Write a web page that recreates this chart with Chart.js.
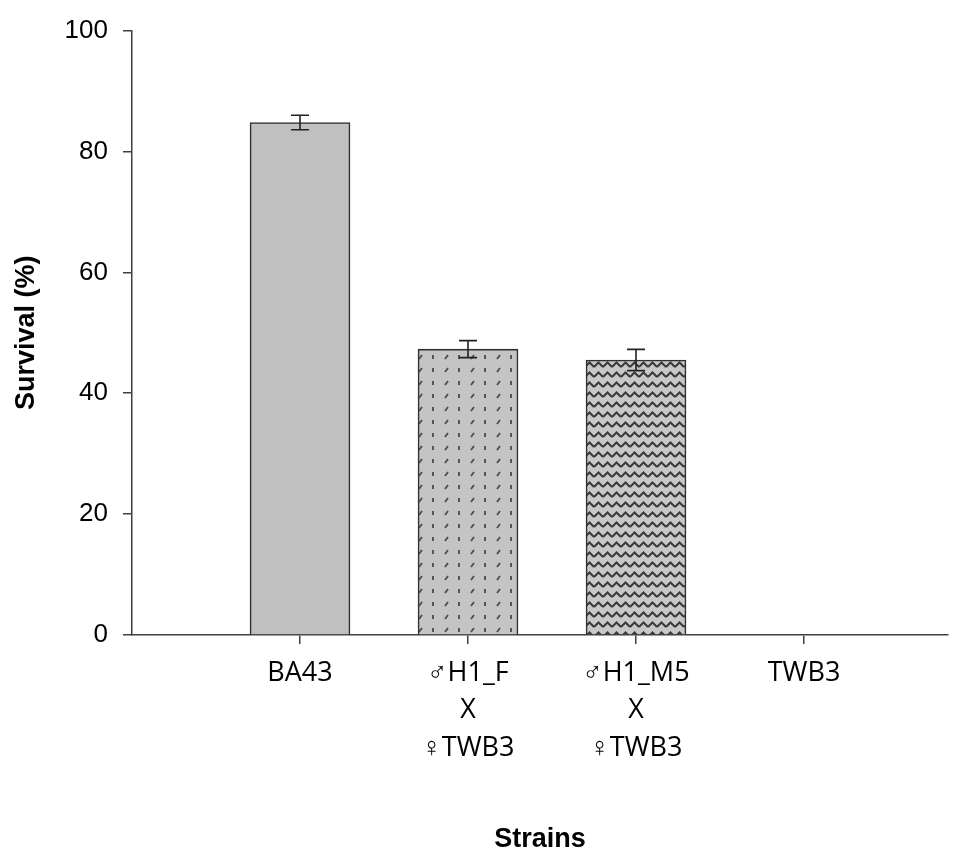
<!DOCTYPE html>
<html>
<head>
<meta charset="utf-8">
<script src="https://cdn.jsdelivr.net/npm/chart.js"></script>
<style>
  body { margin: 0; background: #fff; }
</style>
</head>
<body>
<canvas id="myChart" width="962" height="853"></canvas>
<script>
// strains on the x axis, survival (%) with error bars
const strains = [
  'BA43',
  ['\u2642H1_F', 'X', '\u2640TWB3'],
  ['\u2642H1_M5', 'X', '\u2640TWB3'],
  'TWB3'
];
const survival = [84.8, 47.3, 45.5, 0];
const errors = [1.2, 1.4, 1.75, 0];
const yTicks = [0, 20, 40, 60, 80, 100];

function dotPattern() {
  const c = document.createElement('canvas');
  c.width = 26; c.height = 13;
  const g = c.getContext('2d');
  g.fillStyle = '#c4c4c4';
  g.fillRect(0, 0, 26, 13);
  g.strokeStyle = '#4a4a4a';
  g.lineWidth = 1.8;
  g.beginPath();
  g.moveTo(3, 8); g.lineTo(6, 4);
  g.moveTo(17, 4); g.lineTo(17, 8);
  g.stroke();
  return g.createPattern(c, 'repeat');
}

function zigzagPattern() {
  const c = document.createElement('canvas');
  c.width = 9; c.height = 10;
  const g = c.getContext('2d');
  g.fillStyle = '#c8c8c8';
  g.fillRect(0, 0, 9, 10);
  g.strokeStyle = '#3a3a3a';
  g.lineWidth = 2;
  g.beginPath();
  g.moveTo(0, 7); g.lineTo(4.5, 2.5); g.lineTo(9, 7);
  g.stroke();
  return g.createPattern(c, 'repeat');
}

const errorBars = {
  id: 'errorBars',
  afterDatasetsDraw(chart) {
    const ctx = chart.ctx;
    const y = chart.scales.y;
    const meta = chart.getDatasetMeta(0);
    ctx.save();
    ctx.strokeStyle = '#222';
    ctx.lineWidth = 1.6;
    meta.data.forEach((bar, i) => {
      if (!errors[i]) return;
      const top = y.getPixelForValue(survival[i] + errors[i]);
      const bot = y.getPixelForValue(survival[i] - errors[i]);
      ctx.beginPath();
      ctx.moveTo(bar.x, top); ctx.lineTo(bar.x, bot);
      ctx.moveTo(bar.x - 9, top); ctx.lineTo(bar.x + 9, top);
      ctx.moveTo(bar.x - 9, bot); ctx.lineTo(bar.x + 9, bot);
      ctx.stroke();
    });
    ctx.restore();
  }
};

const config = {
  type: 'bar',
  data: {
    datasets: [{
      data: survival.map((v, i) => ({ x: i + 1, y: v })),
      backgroundColor: ['#c0c0c0', dotPattern(), zigzagPattern(), '#c0c0c0'],
      borderColor: '#303030',
      borderWidth: 1.6,
      borderSkipped: 'bottom',
      barThickness: 100
    }]
  },
  options: {
    responsive: false,
    animation: false,
    layout: { padding: { top: 27, right: 14, left: 0, bottom: 0 } },
    plugins: { legend: { display: false }, tooltip: { enabled: false } },
    scales: {
      x: {
        type: 'linear',
        offset: false,
        min: 0,
        max: 4.857,
        afterBuildTicks: (s) => { s.ticks = strains.map((_, i) => ({ value: i + 1 })); },
        afterFit: (s) => { s.height = 218; },
        ticks: {
          callback: (v) => strains[v - 1],
          color: '#000',
          font: { family: 'Open Sans', size: 27, lineHeight: 1.4 },
          padding: 10,
          maxRotation: 0,
          autoSkip: false
        },
        grid: { offset: false, drawOnChartArea: false, drawTicks: true, tickLength: 9, color: '#404040', lineWidth: 1.5 },
        border: { color: '#404040', width: 1.5 },
        title: {
          display: true,
          text: 'Strains',
          color: '#000',
          font: { family: 'Liberation Sans', size: 27, weight: 'bold', lineHeight: 1 },
          padding: { top: 0, bottom: 0 }
        }
      },
      y: {
        min: 0,
        max: 100,
        afterBuildTicks: (s) => { s.ticks = yTicks.map(v => ({ value: v })); },
        afterFit: (s) => { s.width = 132; },
        ticks: {
          color: '#000',
          font: { family: 'Liberation Sans', size: 26 },
          padding: 15
        },
        grid: { drawOnChartArea: false, drawTicks: true, tickLength: 9, color: '#404040', lineWidth: 1.5 },
        border: { color: '#404040', width: 1.5 },
        title: {
          display: true,
          text: 'Survival (%)',
          color: '#000',
          font: { family: 'Liberation Sans', size: 27, weight: 'bold', lineHeight: 1.2 },
          padding: { top: 10, bottom: 0 }
        }
      }
    }
  },
  plugins: [errorBars]
};

const myChart = new Chart(document.getElementById('myChart'), config);
</script>
</body>
</html>
